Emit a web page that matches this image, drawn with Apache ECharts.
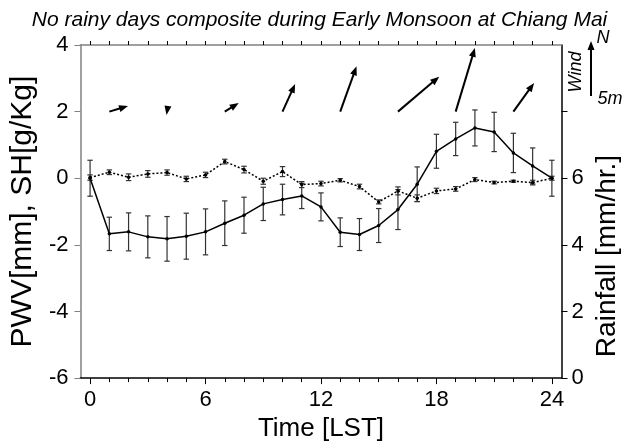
<!DOCTYPE html>
<html>
<head>
<meta charset="utf-8">
<script src="https://cdn.jsdelivr.net/npm/echarts@6/dist/echarts.min.js"></script>
<style>html,body{margin:0;padding:0;background:#fff;}#c{width:639px;height:447px;}</style>
</head>
<body>
<div id="c"></div>
<script>
// ---- data ----
var hours = [0,1,2,3,4,5,6,7,8,9,10,11,12,13,14,15,16,17,18,19,20,21,22,23,24];
var pwv    = [0,-1.67,-1.61,-1.76,-1.82,-1.74,-1.61,-1.35,-1.11,-0.77,-0.64,-0.53,-0.86,-1.62,-1.69,-1.42,-0.94,-0.18,0.81,1.18,1.51,1.39,0.76,0.37,0];
var pwvErr = [0.54,0.50,0.57,0.63,0.67,0.69,0.69,0.67,0.54,0.50,0.46,0.38,0.42,0.43,0.48,0.51,0.60,0.52,0.51,0.50,0.54,0.59,0.59,0.54,0.54];
var sh     = [0.02,0.18,0.03,0.13,0.17,-0.02,0.10,0.50,0.26,-0.09,0.20,-0.19,-0.16,-0.06,-0.25,-0.71,-0.38,-0.60,-0.38,-0.32,-0.04,-0.13,-0.09,-0.13,0];
var shErr  = [0.08,0.07,0.10,0.10,0.08,0.08,0.08,0.07,0.10,0.09,0.15,0.09,0.07,0.05,0.07,0.06,0.12,0.10,0.08,0.07,0.06,0.04,0.03,0.07,0.06];
var windHours = [1,4,7,10,13,16,19,22];
var windU = [1.70,-0.05,1.27,1.15,1.48,3.75,1.75,1.88];   // m/s eastward
var windV = [0.51,-0.30,0.79,2.52,4.12,3.18,5.79,2.61];   // m/s northward
var xTickLabels = [0,6,12,18,24];
var leftTicks = [-6,-4,-2,0,2,4];
var rainLabels = [0,2,4,6];
var rainTicks = [0,2,4,6,8];
var legendWind = 5; // m/s reference arrow

// ---- layout constants ----
var WIND_BASE = 2;     // y-level (left axis units) where wind arrows start
var PX_PER_MS = 11;    // arrow pixels per m/s
var FONT = '"Liberation Sans", Arial, sans-serif';

var chart = echarts.init(document.getElementById('c'));

function errData(vals, errs){
  return hours.map(function(h,i){ return [h, vals[i]-errs[i], vals[i]+errs[i]]; });
}
function errRender(cap, color){
  return function(params, api){
    var x = api.value(0);
    var a = api.coord([x, api.value(1)]);
    var b = api.coord([x, api.value(2)]);
    var st = {stroke: color, lineWidth: 1.2};
    return {type:'group', children:[
      {type:'line', shape:{x1:a[0],y1:a[1],x2:b[0],y2:b[1]}, style:st},
      {type:'line', shape:{x1:a[0]-cap,y1:a[1],x2:a[0]+cap,y2:a[1]}, style:st},
      {type:'line', shape:{x1:b[0]-cap,y1:b[1],x2:b[0]+cap,y2:b[1]}, style:st}
    ]};
  };
}
function arrowShapes(x0, y0, x1, y1, headLen, headW, lw){
  var dx = x1-x0, dy = y1-y0, len = Math.sqrt(dx*dx+dy*dy) || 1;
  var ux = dx/len, uy = dy/len, px = -uy, py = ux;
  var bx = x1 - ux*headLen, by = y1 - uy*headLen;
  var out = [];
  if (len > headLen) {
    out.push({type:'line', shape:{x1:x0,y1:y0,x2:bx+ux*1,y2:by+uy*1}, style:{stroke:'#000', lineWidth:lw}});
  }
  out.push({type:'polygon', shape:{points:[[x1,y1],[bx+px*headW,by+py*headW],[bx-px*headW,by-py*headW]]}, style:{fill:'#000'}});
  return out;
}

var option = {
  animation: false,
  backgroundColor: '#fff',
  title: {
    text: 'No rainy days composite during Early Monsoon at Chiang Mai',
    left: 'center', top: 5,
    textStyle: {fontFamily: FONT, fontStyle: 'italic', fontWeight: 'normal', fontSize: 21, color: '#000'}
  },
  grid: {left: 79, right: 77.5, top: 45, bottom: 66, containLabel: false},
  xAxis: [
    {
      type: 'value', min: -0.5, max: 24.5, position: 'bottom',
      name: 'Time [LST]', nameLocation: 'middle', nameGap: 36,
      nameTextStyle: {fontFamily: FONT, fontSize: 26, color: '#000'},
      axisLine: {onZero: false, lineStyle: {color: '#000', width: 1.5}},
      axisTick: {show: true, length: 6, lineStyle: {color: '#000'}, customValues: xTickLabels},
      axisLabel: {fontFamily: FONT, fontSize: 22, color: '#000', margin: 11, customValues: xTickLabels},
      splitLine: {show: false}
    },
    {
      type: 'value', min: -0.5, max: 24.5, position: 'bottom',
      axisLine: {show: false, onZero: false},
      axisTick: {show: true, length: 4, lineStyle: {color: '#000'}, customValues: hours},
      axisLabel: {show: false}, splitLine: {show: false}
    },
    {
      type: 'value', min: -0.5, max: 24.5, position: 'top',
      axisLine: {onZero: false, lineStyle: {color: '#808080', width: 1.5}},
      axisTick: {show: true, length: 4, lineStyle: {color: '#000'}, customValues: hours},
      axisLabel: {show: false}, splitLine: {show: false}
    }
  ],
  yAxis: [
    {
      type: 'value', min: -6, max: 4, interval: 2, position: 'left',
      name: 'PWV[mm], SH[g/Kg]', nameLocation: 'middle', nameGap: 31, nameRotate: 90,
      nameTextStyle: {fontFamily: FONT, fontSize: 30, color: '#000'},
      axisLine: {show: true, onZero: false, lineStyle: {color: '#808080', width: 1.5}},
      axisTick: {show: true, length: 6, lineStyle: {color: '#808080'}, customValues: leftTicks},
      axisLabel: {fontFamily: FONT, fontSize: 22, color: '#000', margin: 12, customValues: leftTicks},
      splitLine: {show: false}
    },
    {
      type: 'value', min: 0, max: 10, interval: 2, position: 'right',
      axisLine: {show: true, onZero: false, lineStyle: {color: '#000', width: 1.5}},
      axisTick: {show: true, length: 6, lineStyle: {color: '#000'}, customValues: rainTicks},
      axisLabel: {fontFamily: FONT, fontSize: 22, color: '#000', margin: 10, customValues: rainLabels},
      splitLine: {show: false}
    }
  ],
  graphic: (function(){
    var lx = 591, lyBase = 96;
    var els = arrowShapes(lx, lyBase, lx, lyBase - legendWind*PX_PER_MS, 9, 3.5, 2);
    els.push({type:'text', x: 576, y: 72, rotation: Math.PI/2,
      style:{text:'Wind', font:'italic 18px "Liberation Sans", Arial, sans-serif', fill:'#000', align:'center', verticalAlign:'middle'}});
    els.push({type:'text', x: 603, y: 38,
      style:{text:'N', font:'italic 18px "Liberation Sans", Arial, sans-serif', fill:'#000', align:'center', verticalAlign:'middle'}});
    els.push({type:'text', x: 610, y: 99,
      style:{text:'5m', font:'italic 18px "Liberation Sans", Arial, sans-serif', fill:'#000', align:'center', verticalAlign:'middle'}});
    els.push({type:'text', x: 607, y: 256, rotation: Math.PI/2,
      style:{text:'Rainfall [mm/hr.]', font:'28px "Liberation Sans", Arial, sans-serif', fill:'#000', align:'center', verticalAlign:'middle'}});
    return els;
  })(),
  series: [
    {
      type: 'custom', name: 'pwvErr', xAxisIndex: 0, yAxisIndex: 0, z: 2,
      data: errData(pwv, pwvErr), renderItem: errRender(2.7, '#333'), silent: true
    },
    {
      type: 'custom', name: 'shErr', xAxisIndex: 0, yAxisIndex: 0, z: 2,
      data: errData(sh, shErr), renderItem: errRender(2.7, '#333'), silent: true
    },
    {
      type: 'line', name: 'PWV', xAxisIndex: 0, yAxisIndex: 0, z: 3,
      data: hours.map(function(h,i){return [h, pwv[i]];}),
      symbol: 'circle', symbolSize: 3.5, showSymbol: true,
      lineStyle: {color: '#000', width: 1.5}, itemStyle: {color: '#000'}
    },
    {
      type: 'line', name: 'SH', xAxisIndex: 0, yAxisIndex: 0, z: 3,
      data: hours.map(function(h,i){return [h, sh[i]];}),
      symbol: 'circle', symbolSize: 3.5, showSymbol: true,
      lineStyle: {color: '#000', width: 1.5, type: [2, 2]}, itemStyle: {color: '#000'}
    },
    {
      type: 'custom', name: 'wind', xAxisIndex: 0, yAxisIndex: 0, z: 4, silent: true,
      data: windHours.map(function(h,i){return [h, windU[i], windV[i]];}),
      renderItem: function(params, api){
        var base = api.coord([api.value(0), WIND_BASE]);
        var tx = base[0] + api.value(1)*PX_PER_MS;
        var ty = base[1] - api.value(2)*PX_PER_MS;
        return {type:'group', children: arrowShapes(base[0], base[1], tx, ty, 9, 3.5, 2)};
      }
    }
  ]
};
chart.setOption(option);
</script>
</body>
</html>
